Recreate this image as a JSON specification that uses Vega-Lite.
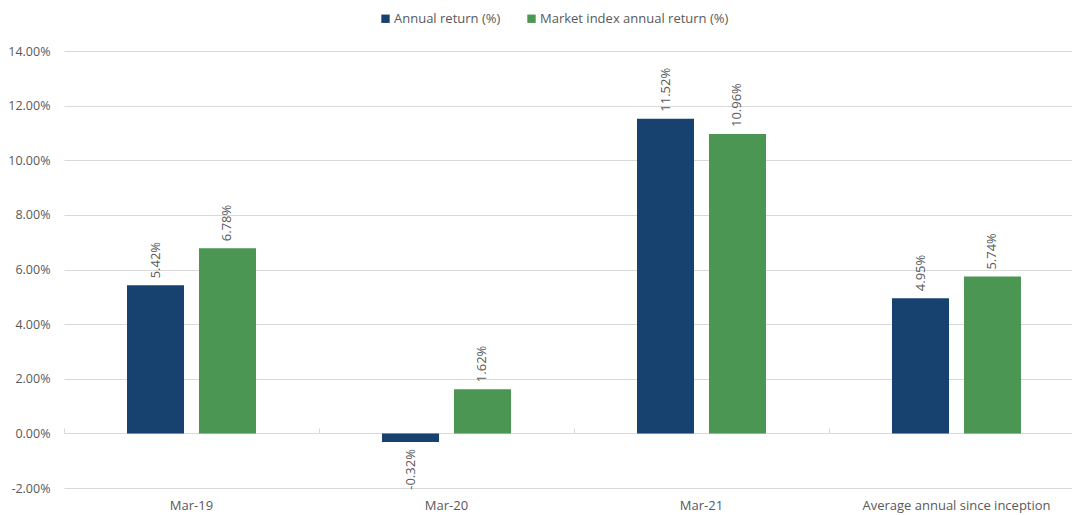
{
  "$schema": "https://vega.github.io/schema/vega-lite/v6.json",
  "autosize": {"type": "none"},
  "padding": {"left": 64, "top": 51, "right": 0, "bottom": 27},
  "width": 1020,
  "height": 437,
  "background": "white",
  "config": {
    "view": {"stroke": null},
    "font": "Open Sans",
    "axis": {"labelColor": "#595959", "labelFont": "Open Sans", "labelFontSize": 12.5},
    "legend": {"labelColor": "#595959", "labelFont": "Open Sans", "labelFontSize": 13}
  },
  "data": {
    "values": [
      {"category": "Mar-19", "series": "Annual return (%)", "value": 0.0542},
      {"category": "Mar-19", "series": "Market index annual return (%)", "value": 0.0678},
      {"category": "Mar-20", "series": "Annual return (%)", "value": -0.0032},
      {"category": "Mar-20", "series": "Market index annual return (%)", "value": 0.0162},
      {"category": "Mar-21", "series": "Annual return (%)", "value": 0.1152},
      {"category": "Mar-21", "series": "Market index annual return (%)", "value": 0.1096},
      {"category": "Average annual since inception", "series": "Annual return (%)", "value": 0.0495},
      {"category": "Average annual since inception", "series": "Market index annual return (%)", "value": 0.0574}
    ]
  },
  "transform": [
    {"calculate": "replace(format(datum.value, '.2%'), '\u2212', '-')", "as": "label"}
  ],
  "encoding": {
    "xOffset": {
      "field": "series", "type": "nominal",
      "scale": {"paddingInner": 0.208, "paddingOuter": 0.875}
    },
    "y": {
      "field": "value", "type": "quantitative",
      "scale": {"domain": [-0.02, 0.14], "nice": false, "zero": false}
    }
  },
  "layer": [
    {
      "mark": {"type": "bar"},
      "encoding": {
        "x": {
          "field": "category", "type": "nominal", "sort": null, "title": null,
          "scale": {"paddingInner": 0, "paddingOuter": 0},
          "axis": {"orient": "bottom", "domain": false, "ticks": false, "labelAngle": 0, "labelPadding": 11, "labelFontSize": 13, "labelLimit": 0, "grid": false}
        },
        "y": {
          "field": "value", "type": "quantitative", "title": null,
          "axis": {"labelExpr": "replace(format(datum.value, '.2%'), '\u2212', '-')", "values": [-0.02, 0, 0.02, 0.04, 0.06, 0.08, 0.1, 0.12, 0.14], "domain": false, "ticks": false, "labelPadding": 14, "gridColor": "#d9d9d9", "gridWidth": 1}
        },
        "color": {
          "field": "series", "type": "nominal", "title": null,
          "scale": {"domain": ["Annual return (%)", "Market index annual return (%)"], "range": ["#17416E", "#4A9652"]},
          "legend": {"orient": "none", "legendX": 315, "legendY": -39, "direction": "horizontal", "symbolType": "square", "symbolSize": 70, "symbolStrokeWidth": 0, "columnPadding": 24, "labelOffset": 2, "labelLimit": 0}
        }
      }
    },
    {
      "transform": [{"filter": "datum.value >= 0"}],
      "mark": {"type": "text", "angle": -90, "align": "left", "baseline": "middle", "dx": 7, "fontSize": 13, "color": "#595959"},
      "encoding": {
        "x": {
          "field": "category", "type": "nominal", "sort": null, "title": null,
          "axis": {"orient": "top", "offset": -382, "domain": false, "ticks": true, "tickColor": "#d9d9d9", "tickSize": 5, "bandPosition": 0, "labels": false, "grid": false}
        },
        "text": {"field": "label", "type": "nominal"}
      }
    },
    {
      "transform": [{"filter": "datum.value < 0"}],
      "mark": {"type": "text", "angle": -90, "align": "right", "baseline": "middle", "dx": -7, "fontSize": 13, "color": "#595959"},
      "encoding": {
        "x": {"field": "category", "type": "nominal", "sort": null, "axis": null},
        "text": {"field": "label", "type": "nominal"}
      }
    }
  ],
  "resolve": {"axis": {"x": "independent"}}
}
